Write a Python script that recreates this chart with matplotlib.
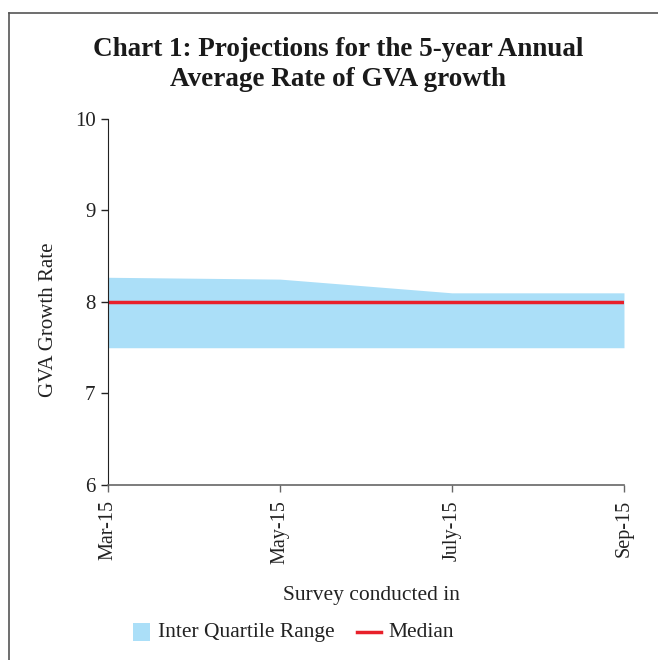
import matplotlib
matplotlib.use("Agg")
import matplotlib.pyplot as plt
from matplotlib.lines import Line2D
from matplotlib.patches import Rectangle

# survey rounds and projections (per cent)
surveys = ["Mar-15", "May-15", "July-15", "Sep-15"]
iqr_upper = [8.27, 8.25, 8.1, 8.1]
iqr_lower = [7.5, 7.5, 7.5, 7.5]
median = [8.0, 8.0, 8.0, 8.0]

band_color = '#ABDFF8'
median_color = '#E8202A'
text_color = '#222222'

plt.rcParams['font.family'] = ['Liberation Serif', 'DejaVu Serif']

fig = plt.figure(figsize=(6.58, 6.6), dpi=100)
ax = fig.add_axes([0.1641, 0.2652, 0.7842, 0.5545])

x = list(range(len(surveys)))
ax.fill_between(x, iqr_lower, iqr_upper, color=band_color, linewidth=0)
ax.plot(x, median, color=median_color, linewidth=2.5)

ax.set_xlim(0, len(surveys) - 1)
ax.set_ylim(6, 10)
ax.set_yticks([6, 7, 8, 9, 10])
ax.set_xticks(x)
ax.set_xticklabels(surveys, rotation=90, fontsize=14.5, color=text_color)
ax.tick_params(axis='y', labelsize=15, colors=text_color, length=5, width=1, pad=4)
ax.tick_params(axis='x', length=5, width=1, color='#666666', pad=6)

for pos in ['top', 'right']:
    ax.spines[pos].set_visible(False)
ax.spines['left'].set_color(text_color)
ax.spines['bottom'].set_color('#666666')
ax.spines['bottom'].set_linewidth(1.2)

fig.text(0.073, 0.516, "GVA Growth Rate", rotation=90, ha='center', va='center',
         fontsize=15, color=text_color)
fig.text(0.565, 0.098, "Survey conducted in", ha='center', va='center',
         fontsize=15.5, color=text_color)

fig.text(0.514, 0.902, "Chart 1: Projections for the 5-year Annual\nAverage Rate of GVA growth",
         ha='center', va='center', fontsize=19.5, fontweight='bold',
         color='#1a1a1a', linespacing=1.28)

# legend drawn by hand: range patch on the left, median line on the right
leg_y = 0.042
fig.add_artist(Rectangle((0.202, leg_y - 0.0136), 0.026, 0.0272,
                         facecolor=band_color, edgecolor='none'))
fig.text(0.240, leg_y, "Inter Quartile Range", ha='left', va='center',
         fontsize=15.5, color=text_color)
fig.add_artist(Line2D([0.543, 0.579], [leg_y, leg_y], color=median_color, linewidth=2.5))
fig.text(0.590, leg_y, "Median", ha='left', va='center',
         fontsize=15.5, color=text_color)

# open frame round the chart (top and left only)
fig.add_artist(Line2D([0.014, 1.0], [0.981, 0.981], color='#555555', linewidth=1.2))
fig.add_artist(Line2D([0.014, 0.014], [0.0, 0.981], color='#555555', linewidth=1.2))

fig.savefig("out.png", dpi=100)
